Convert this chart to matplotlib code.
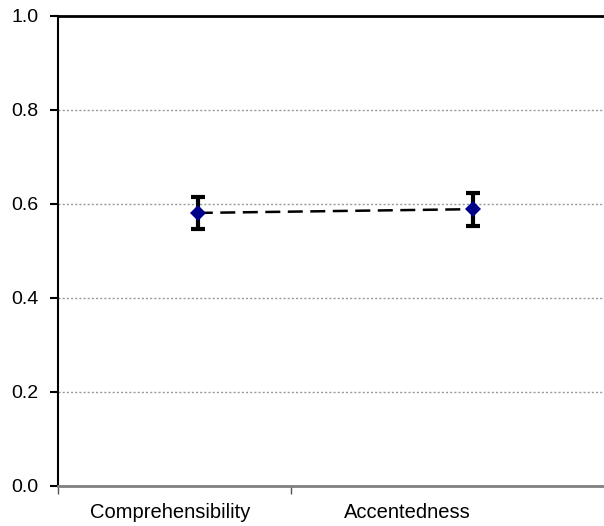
import numpy as np
import matplotlib.pyplot as plt

plt.rcParams["font.family"] = ["Liberation Sans", "DejaVu Sans"]

categories = ["Comprehensibility", "Accentedness"]
means = [0.581, 0.589]
errors = [0.034, 0.035]
# points sit a little right of each category centre in the original
point_x = [0.6, 1.78]

fig = plt.figure(figsize=(6.04, 5.26), dpi=100)
ax = fig.add_axes([58 / 604, 40 / 526, 1 - 58 / 604, 470 / 526])

ax.set_ylim(0, 1.0)
ax.set_xlim(0, (604 - 58) / 233)
ax.set_yticks(np.arange(0, 1.01, 0.2))
ax.set_yticklabels([f"{v:.1f}" for v in np.arange(0, 1.01, 0.2)])
ax.yaxis.grid(True, linestyle=(0, (1.5, 1.5)), color="#999999", linewidth=1)
ax.set_axisbelow(True)

ax.set_xticks([0, 1])
ax.set_xticklabels([])
ax.set_xticks([0.48, 1.5], minor=True)
ax.set_xticklabels(categories, minor=True)
ax.tick_params(axis="x", which="minor", length=0, pad=12, labelsize=14.5)
ax.tick_params(axis="x", which="major", length=6, width=1, color="#555555", direction="out")
ax.tick_params(axis="y", length=6, width=1.5, direction="out", pad=8, labelsize=14)

ax.plot(point_x, means, color="black", linestyle=(0, (6, 3)), linewidth=1.8, zorder=2)
ax.errorbar(point_x, means, yerr=errors, fmt="none", ecolor="black",
            elinewidth=3, capsize=5, capthick=3, zorder=3)
ax.plot(point_x, means, linestyle="none", marker="D", markersize=8,
        color="#00008b", markeredgewidth=0, zorder=4)

ax.spines["right"].set_visible(False)
ax.spines["top"].set_linewidth(2)
ax.spines["top"].set_color("black")
ax.spines["left"].set_linewidth(1.5)
ax.spines["left"].set_color("black")
ax.spines["bottom"].set_linewidth(2)
ax.spines["bottom"].set_color("#808080")

fig.savefig("out.png", dpi=100)
